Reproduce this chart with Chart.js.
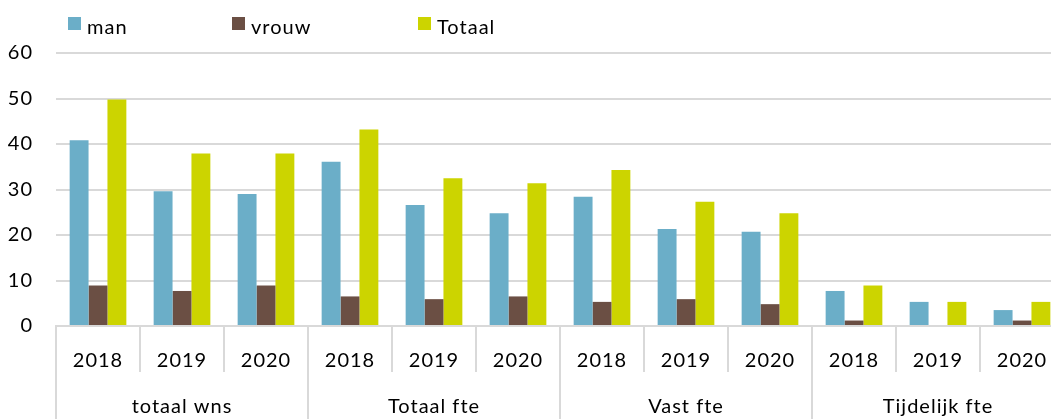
<!DOCTYPE html>
<html>
<head>
<meta charset="utf-8">
<script src="https://cdn.jsdelivr.net/npm/chart.js@4/dist/chart.umd.min.js"></script>
<style>
  html, body { margin: 0; padding: 0; background: #fff; overflow: hidden; }
  #wrap { position: absolute; left: 0; top: 0; width: 1064px; height: 419px; }
  .key { position: absolute; top: 14px; font: 20px Lato, sans-serif; letter-spacing: 1px; color: #000; white-space: nowrap; line-height: 24px; }
  .key i { position: absolute; left: 0; top: 3px; width: 13px; height: 13px; }
  .key span { position: absolute; left: 19px; top: 0; }
</style>
</head>
<body>
<div id="wrap"><canvas id="myChart"></canvas></div>
<div id="legend"></div>
<script>
// categories
const groups = ['totaal wns', 'Totaal fte', 'Vast fte', 'Tijdelijk fte'];
const years = ['2018', '2019', '2020'];
const yTicks = [0, 10, 20, 30, 40, 50, 60];

// series values, one per year within each group
const man    = [40.8, 29.6, 29.0, 36.1, 26.6, 24.8, 28.4, 21.3, 20.7, 7.7, 5.3, 3.5];
const vrouw  = [8.9, 7.7, 8.9, 6.5, 5.9, 6.5, 5.3, 5.9, 4.8, 1.2, 0, 1.2];
const totaal = [49.8, 37.9, 37.9, 43.2, 32.5, 31.4, 34.3, 27.3, 24.8, 8.9, 5.3, 5.3];

const seriesNames = ['man', 'vrouw', 'Totaal'];
const colors = ['#6BAEC8', '#6B4F44', '#CCD400'];

const labels = [];
groups.forEach(() => years.forEach(y => labels.push(y)));

const gridColor = '#d9d9d9';
const font = { family: 'Lato, sans-serif', size: 20 };

// legend row
const legendX = [68, 232, 418];
const legend = document.getElementById('legend');
seriesNames.forEach((name, i) => {
  const d = document.createElement('div');
  d.className = 'key';
  d.style.left = legendX[i] + 'px';
  d.innerHTML = '<i style="background:' + colors[i] + '"></i><span>' + name + '</span>';
  legend.appendChild(d);
});

const spacing = {
  id: 'spacing',
  beforeDraw(chart) { chart.ctx.letterSpacing = '1px'; }
};

const ctx = document.getElementById('myChart');
new Chart(ctx, {
  type: 'bar',
  data: {
    labels: labels,
    datasets: [man, vrouw, totaal].map((d, i) => ({
      label: seriesNames[i],
      data: d,
      backgroundColor: colors[i],
      borderWidth: 0,
      categoryPercentage: 0.675,
      barPercentage: 1
    }))
  },
  options: {
    responsive: true,
    maintainAspectRatio: false,
    animation: false,
    layout: { padding: { top: 53, left: 0, right: 0, bottom: 0 } },
    plugins: { legend: { display: false }, tooltip: { enabled: false } },
    scales: {
      x: {
        weight: 0,
        offset: true,
        grid: { offset: true, drawOnChartArea: false, tickLength: 46, color: gridColor, lineWidth: 2 },
        border: { display: true, color: gridColor, width: 2 },
        ticks: { font: font, color: '#000', padding: -23, autoSkip: false, maxRotation: 0 },
        afterFit: s => { s.height = 46; }
      },
      x2: {
        type: 'category',
        position: 'bottom',
        weight: 1,
        labels: groups,
        offset: true,
        grid: { offset: true, drawOnChartArea: false, tickLength: 47, color: gridColor, lineWidth: 2 },
        border: { display: false },
        ticks: { font: font, color: '#000', padding: -24, autoSkip: false, maxRotation: 0 },
        afterFit: s => { s.height = 47; }
      },
      y: {
        min: 0,
        max: 60,
        afterBuildTicks: s => { s.ticks = yTicks.map(v => ({ value: v })); },
        grid: { color: gridColor, lineWidth: 2, drawTicks: false },
        border: { display: false },
        ticks: { font: font, color: '#000', padding: 23 },
        afterFit: s => { s.width = 56; }
      }
    }
  },
  plugins: [spacing]
});
</script>
</body>
</html>
